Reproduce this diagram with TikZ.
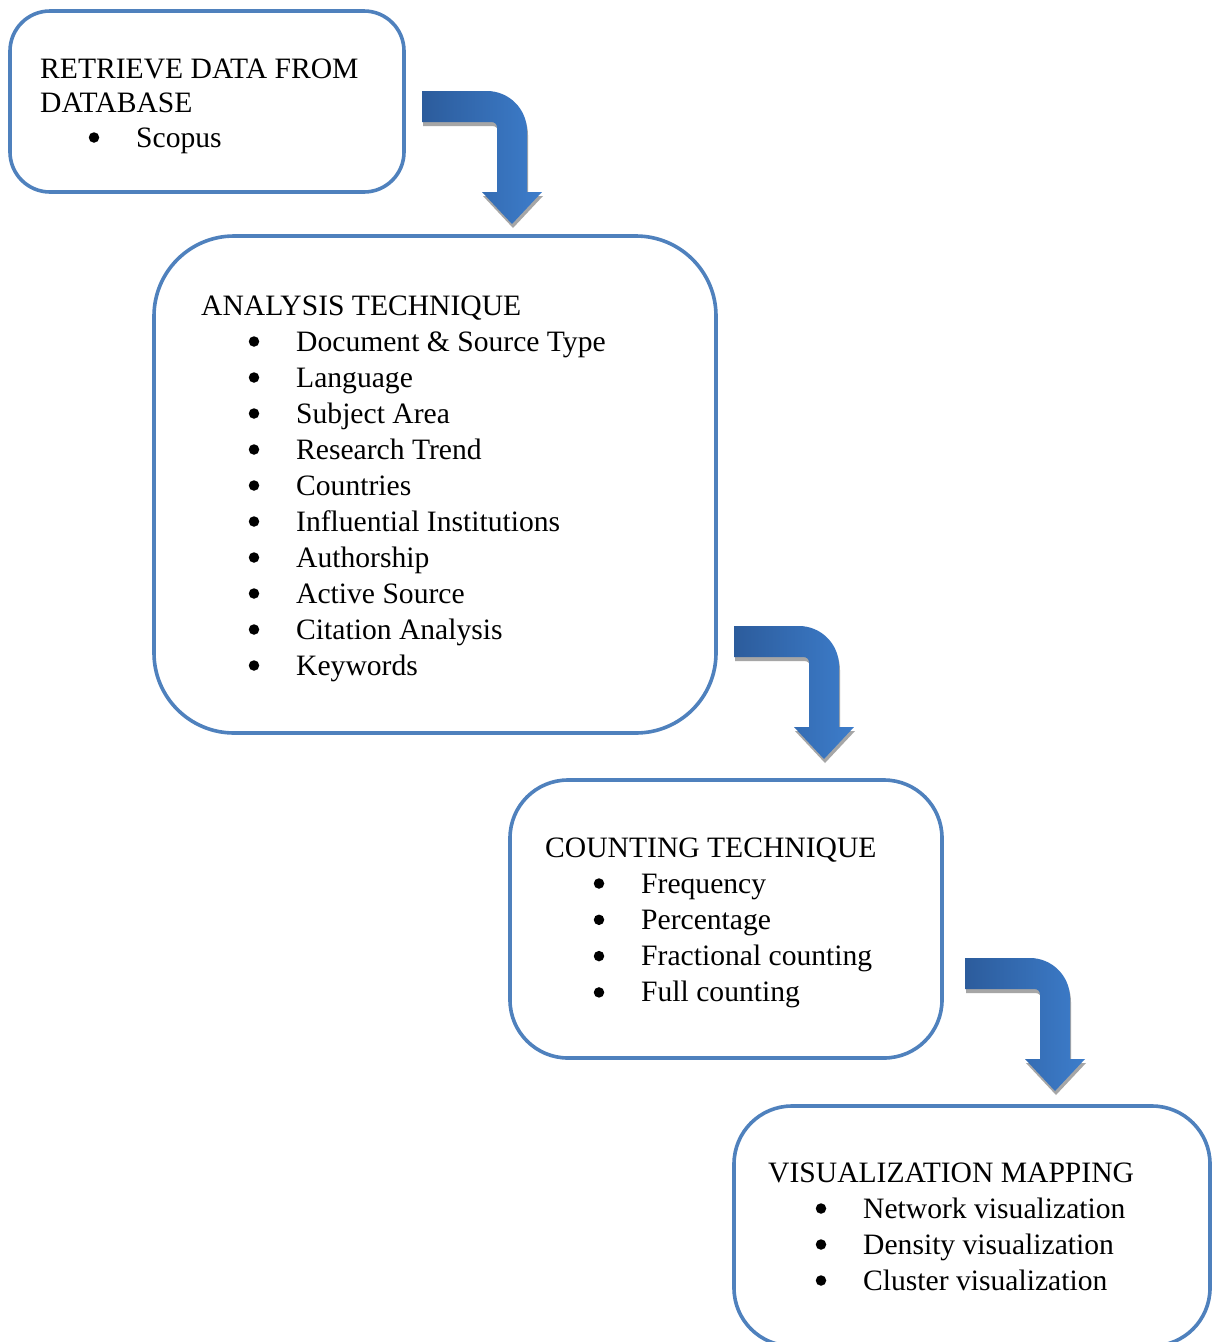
\documentclass[tikz,border=0pt]{standalone}
\usepackage{fontspec}
\setmainfont{Liberation Serif}
\definecolor{boxblue}{HTML}{4F81BD}
\definecolor{arrowdark}{HTML}{2C5C9C}
\definecolor{arrowlight}{HTML}{3D7DCB}
\definecolor{shadowgray}{HTML}{A6A6A6}
\begin{document}
\begin{tikzpicture}[x=1pt,y=-1pt,
  stage/.style={draw=boxblue, line width=3.6pt, fill=white, inner sep=0pt},
  txt/.style={anchor=base west, inner sep=0pt, font=\fontsize{29.6}{35}\selectfont},
  dot/.style={circle, fill=black, inner sep=0pt, minimum size=10.5pt, yshift=9.5pt},
  bend arrow/.pic={
    \path[fill=shadowgray, xshift=1pt, yshift=-4pt]
      (0,0) -- (65,0) .. controls (87,0) and (105,18) .. (105,40)
      -- (105,101) -- (120,101) -- (90,133) -- (60,101) -- (75,101)
      -- (75,37) .. controls (75,33) and (73,31) .. (69,31) -- (0,31) -- cycle;
    \path[left color=arrowdark, right color=arrowlight]
      (0,0) -- (65,0) .. controls (87,0) and (105,18) .. (105,40)
      -- (105,101) -- (120,101) -- (90,133) -- (60,101) -- (75,101)
      -- (75,37) .. controls (75,33) and (73,31) .. (69,31) -- (0,31) -- cycle;
  }]
\useasboundingbox (0,0) rectangle (1212,1342);
\clip (0,0) rectangle (1212,1342);
\fill[white] (0,0) rectangle (1212,1342);

% stage boxes
\node[stage, rounded corners=40pt, minimum width=394pt, minimum height=181pt] (retrieve) at (207,101.5) {};
\node[stage, rounded corners=80pt, minimum width=562pt, minimum height=497pt] (analysis) at (435,484.5) {};
\node[stage, rounded corners=58pt, minimum width=432pt, minimum height=278pt] (counting) at (726,919) {};
\node[stage, rounded corners=58pt, minimum width=476pt, minimum height=240pt] (mapping) at (972,1226) {};

% block arrows between the stages
\pic (arrowA) at (422,91) {bend arrow};
\pic (arrowB) at (734,626) {bend arrow};
\pic (arrowC) at (965,958) {bend arrow};

% stage 1
\node[txt] (t1a) at (40,78) {RETRIEVE DATA FROM};
\node[txt] (t1b) at (40,112) {DATABASE};
\node[dot] (b1) at (94,147) {};
\node[txt] (i1) at (136,147) {Scopus};

% stage 2
\node[txt] (t2) at (201,315) {ANALYSIS TECHNIQUE};
\foreach \item [count=\i] in {Document \& Source Type, Language, Subject Area,
    Research Trend, Countries, Influential Institutions, Authorship,
    Active Source, Citation Analysis, Keywords} {
  \node[dot] (b2-\i) at (254,{351+36*(\i-1)}) {};
  \node[txt] (i2-\i) at (296,{351+36*(\i-1)}) {\item};
}

% stage 3
\node[txt] (t3) at (545,857) {COUNTING TECHNIQUE};
\foreach \item [count=\i] in {Frequency, Percentage, Fractional counting, Full counting} {
  \node[dot] (b3-\i) at (599,{893+36.3*(\i-1)}) {};
  \node[txt] (i3-\i) at (641,{893+36.3*(\i-1)}) {\item};
}

% stage 4
\node[txt] (t4) at (768,1182) {VISUALIZATION MAPPING};
\foreach \item [count=\i] in {Network visualization, Density visualization, Cluster visualization} {
  \node[dot] (b4-\i) at (821,{1218+36*(\i-1)}) {};
  \node[txt] (i4-\i) at (863,{1218+36*(\i-1)}) {\item};
}
\end{tikzpicture}
\end{document}
